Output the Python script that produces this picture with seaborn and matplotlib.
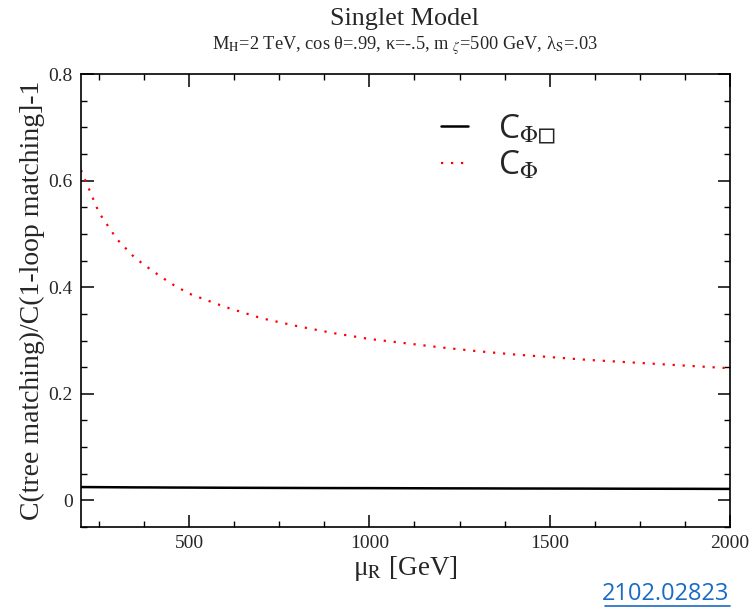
import matplotlib
matplotlib.use("Agg")
import matplotlib.pyplot as plt
import seaborn as sns
import pandas as pd
from matplotlib.ticker import MultipleLocator
from matplotlib.lines import Line2D

# ---- data ----
mu_R = [200, 250, 300, 350, 400, 450, 500, 600, 700, 800, 900, 1000,
        1100, 1200, 1300, 1400, 1500, 1600, 1700, 1800, 1900, 2000]
c_phi = [0.62, 0.54, 0.49, 0.455, 0.43, 0.407, 0.388, 0.363, 0.342, 0.327,
         0.314, 0.303, 0.295, 0.287, 0.280, 0.274, 0.269, 0.264, 0.260,
         0.256, 0.252, 0.248]
c_phibox = [0.025, 0.0248, 0.0246, 0.0244, 0.0243, 0.0241, 0.024, 0.0237,
            0.0235, 0.0233, 0.0231, 0.023, 0.0228, 0.0226, 0.0225, 0.0223,
            0.0222, 0.0221, 0.0219, 0.0218, 0.0217, 0.0215]
label_box = "C$_{\\Phi\u25fb}$"
label_phi = "C$_{\\Phi}$"

df = pd.DataFrame({"mu": mu_R, "phi": c_phi, "box": c_phibox})

sns.set_theme(style="ticks")
plt.rcParams["font.family"] = ["Liberation Serif", "DejaVu Serif"]
plt.rcParams["mathtext.fontset"] = "stix"

fig = plt.figure(figsize=(7.54, 6.08), dpi=100)
ax = fig.add_axes([0.1074, 0.1332, 0.8606, 0.7448])

sns.lineplot(data=df, x="mu", y="box", ax=ax, color="black", lw=1.8,
             label=label_box)
sns.lineplot(data=df, x="mu", y="phi", ax=ax, color="red", lw=1.6,
             linestyle=(0, (1, 3.5)), label=label_phi)

ax.set_xlim(200, 2000)
ax.set_ylim(-0.05, 0.8)
ax.xaxis.set_major_locator(MultipleLocator(500))
ax.xaxis.set_minor_locator(MultipleLocator(125))
ax.yaxis.set_major_locator(MultipleLocator(0.2))
ax.yaxis.set_minor_locator(MultipleLocator(0.05))
ax.set_xticks([500, 1000, 1500, 2000])
ax.set_xticklabels(["500", "1000", "1500", "2000"])
ax.set_yticks([0, 0.2, 0.4, 0.6, 0.8])
ax.set_yticklabels(["0", "0.2", "0.4", "0.6", "0.8"])
ax.tick_params(which="both", direction="in", top=True, right=True,
               color="black", labelsize=14, pad=6)
ax.tick_params(which="major", length=9, width=1.1)
ax.tick_params(which="minor", length=4.5, width=1.0)
for s in ax.spines.values():
    s.set_linewidth(1.2)
    s.set_color("black")

ax.set_xlabel("\u03bc$_{\\mathrm{R}}$ [GeV]", fontsize=19.5, labelpad=1)
ax.set_ylabel("C(tree matching)/C(1-loop matching]-1", fontsize=20,
              labelpad=2.5)

fig.text(0.537, 0.968, "Singlet Model", ha="center", va="center",
         fontsize=18.8)
fig.text(0.537, 0.925,
         "M$_{\\mathrm{H}}$=2 TeV, cos \u03b8=.99, \u03ba=-.5, m $_{\\zeta}$=500 GeV, \u03bb$_{\\mathrm{S}}$=.03",
         ha="center", va="center", fontsize=13.2)

leg = ax.legend(loc="upper left", bbox_to_anchor=(0.509, 0.982), frameon=False,
                prop={"family": ["Open Sans", "DejaVu Sans"], "size": 24},
                handlelength=0.8, handletextpad=0.9, labelspacing=0.12)

t = fig.text(0.967, 0.013, "2102.02823", ha="right", va="baseline",
             fontsize=17, color="#1a6bc4",
             family=["Open Sans", "DejaVu Sans"])
fig.add_artist(Line2D([0.803, 0.968], [0.003, 0.003], color="#1a6bc4",
                      lw=1.2, transform=fig.transFigure))

fig.savefig("out.png", dpi=100)
